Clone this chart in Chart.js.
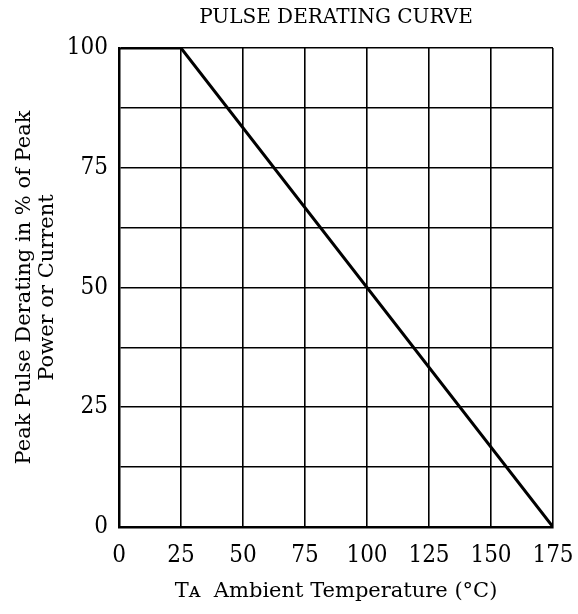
<!DOCTYPE html>
<html>
<head>
<meta charset="utf-8">
<script src="https://cdn.jsdelivr.net/npm/chart.js@4.4.0/dist/chart.umd.min.js"></script>
<style>
  html, body { margin: 0; padding: 0; background: #fff; }
  #wrap { width: 578px; height: 614px; }
</style>
</head>
<body>
<div id="wrap"><canvas id="graph_zone"></canvas></div>
<script>
// curve data
const temps = [0, 25, 175];
const derating = [100, 100, 0];
const xMin = 0, xMax = 175, xStep = 25;
const yMin = 0, yMax = 100, yStep = 12.5, yLabelStep = 25;

const serif = "'DejaVu Serif', 'Liberation Serif', serif";
const tickFont = "'DejaVu Serif Condensed', 'DejaVu Serif', serif";

let graph = document.querySelector('#graph_zone').getContext("2d");

let myChart = new Chart(graph, {
    type: 'line',
    data: {
        datasets: [{
            data: temps.map((t, i) => ({ x: t, y: derating[i] })),
            borderColor: '#000',
            borderWidth: 3,
            pointRadius: 0,
            fill: false,
            tension: 0
        }]
    },
    options: {
        responsive: true,
        maintainAspectRatio: false,
        animation: false,
        layout: { padding: { left: 0, right: 25, top: 0, bottom: 0 } },
        plugins: {
            legend: { display: false },
            tooltip: { enabled: false },
            title: {
                display: true,
                text: 'PULSE DERATING CURVE',
                color: '#000',
                fullSize: false,
                font: { family: serif, size: 20, weight: 'normal', lineHeight: 1.2 },
                padding: { top: 6, bottom: 18 }
            }
        },
        scales: {
            x: {
                type: 'linear',
                min: xMin,
                max: xMax,
                ticks: {
                    stepSize: xStep,
                    color: '#000',
                    font: { family: tickFont, size: 24 },
                    padding: 14,
                    maxRotation: 0
                },
                grid: { color: '#000', lineWidth: 1.6, drawTicks: false },
                border: { color: '#000', width: 2.5 },
                title: {
                    display: true,
                    text: 'T\u1D00  Ambient Temperature (°C)',
                    color: '#000',
                    font: { family: serif, size: 21, lineHeight: 1.2 },
                    padding: { top: 0, bottom: 10 }
                },
                afterFit: s => { s.height = 87; s.paddingRight = 0; }
            },
            y: {
                min: yMin,
                max: yMax,
                ticks: {
                    stepSize: yStep,
                    color: '#000',
                    font: { family: tickFont, size: 24 },
                    padding: 11,
                    callback: v => (v % yLabelStep === 0 ? v : '')
                },
                grid: { color: '#000', lineWidth: 1.6, drawTicks: false },
                border: { color: '#000', width: 2.5 },
                title: {
                    display: true,
                    text: ['Peak Pulse Derating in % of Peak', 'Power or Current'],
                    color: '#000',
                    font: { family: serif, size: 21, lineHeight: 1.1 },
                    padding: { top: 13, bottom: 0 }
                },
                afterFit: s => { s.width = 119; }
            }
        }
    }
});
</script>
</body>
</html>
